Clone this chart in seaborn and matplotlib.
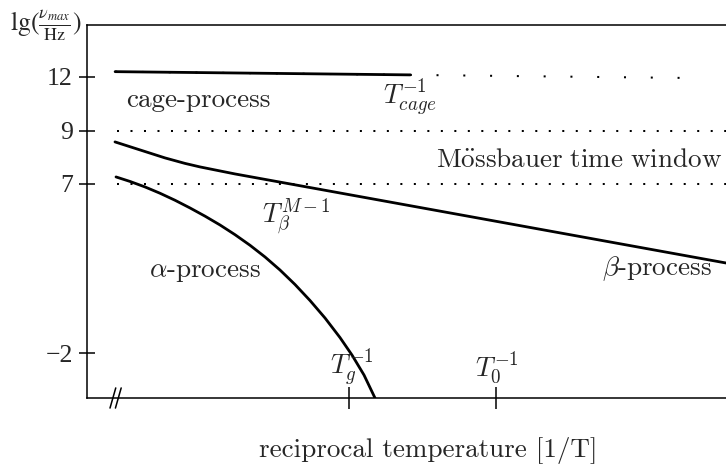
import numpy as np
import matplotlib
matplotlib.use("Agg")
import matplotlib.pyplot as plt
import seaborn as sns

# ---------------- data (schematic: x = reciprocal temperature, arbitrary units 0..10; y = lg(nu_max/Hz)) ----
cage_x = [0.44, 5.06]
cage_y = [12.29, 12.11]
cage_ext_x = [0.44, 9.62]          # dotted continuation of the cage line
cage_ext_y = [12.29, 11.93]

beta_x = [0.438, 0.829, 1.221, 1.534, 1.768, 2.003, 2.316, 10.0]
beta_y = [8.585, 8.283, 7.981, 7.774, 7.642, 7.528, 7.377, 2.793]

alpha_x = [0.454, 0.673, 0.908, 1.142, 1.377, 1.612, 1.847, 2.081, 2.316, 2.551,
           2.786, 3.020, 3.255, 3.490, 3.725, 3.959, 4.147, 4.335, 4.507]
alpha_y = [7.264, 7.094, 6.840, 6.505, 6.132, 5.722, 5.285, 4.817, 4.300, 3.736,
           3.113, 2.421, 1.649, 0.797, -0.135, -1.174, -2.105, -3.170, -4.395]

window_x = [0.47, 10.0]
window_low = 7
window_high = 9

ytick_vals = [12, 9, 7, -2]
ytick_labels = ["12", "9", "7", "\u22122"]
xtick_vals = [4.10, 6.40]      # T_g^-1 and T_0^-1

# schematic (piecewise linear) y axis
knot_lg = [-100.0, -4.4, -2.0, 7.0, 9.0, 12.0, 14.9, 100.0]
knot_pos = [-95.6 * 18.78, 0.0, 45.0, 214.0, 267.0, 321.0, 373.0, 373.0 + 85.1 * 18.0]

def fwd(v):
    return np.interp(v, knot_lg, knot_pos)

def inv(p):
    return np.interp(p, knot_pos, knot_lg)

# ---------------- style ----------------
sns.set_style("white")
plt.rcParams["font.family"] = ["cmr10", "DejaVu Serif"]
plt.rcParams["mathtext.fontset"] = "cm"
plt.rcParams["axes.formatter.use_mathtext"] = True

fig = plt.figure(figsize=(7.26, 4.68), dpi=100)
ax = fig.add_axes([87 / 726, 70 / 468, 639 / 726, 373 / 468])

lw = 2.0
sns.lineplot(x=cage_ext_x, y=cage_ext_y, ax=ax, color="black", lw=1.45,
             linestyle=(0, (1.0, 12.3)), estimator=None, sort=False)
sns.lineplot(x=cage_x, y=cage_y, ax=ax, color="black", lw=lw, estimator=None, sort=False)
for yv in (window_high, window_low):
    sns.lineplot(x=window_x, y=[yv, yv], ax=ax, color="black", lw=1.45,
                 linestyle=(0, (1.0, 5.7)), estimator=None, sort=False)
sns.lineplot(x=beta_x, y=beta_y, ax=ax, color="black", lw=lw, estimator=None, sort=False)
sns.lineplot(x=alpha_x, y=alpha_y, ax=ax, color="black", lw=lw, estimator=None, sort=False)

ax.set_yscale("function", functions=(fwd, inv))
ax.set_xlim(0, 10)
ax.set_ylim(-4.395, 14.89)

ax.set_yticks(ytick_vals, labels=ytick_labels)
ax.set_xticks(xtick_vals, labels=["", ""])
ax.minorticks_off()
for lab in ax.get_yticklabels():
    lab.set_fontfamily("Liberation Serif")
    lab.set_fontsize(18.5)
ax.tick_params(axis="y", which="major", left=True, right=False, direction="inout",
               length=11.5, width=1.1, pad=4.5, color="black")
ax.tick_params(axis="x", which="major", bottom=True, top=False, direction="inout",
               length=16.5, width=1.1, color="black")

for s in ("left", "top", "bottom"):
    ax.spines[s].set_color("black")
    ax.spines[s].set_linewidth(1.1)
ax.spines["right"].set_visible(False)
ax.set_xlabel("")
ax.set_ylabel("")

# axis break mark
for dx in (0.0, 0.0085):
    ax.plot([0.036 + dx, 0.045 + dx], [-0.027, 0.027], transform=ax.transAxes,
            color="black", lw=1.1, clip_on=False)

fs = 19.5
T = ax.transAxes
ax.text(0.061, 0.780, "cage-process", transform=T, fontsize=fs, va="baseline")
ax.text(0.463, 0.786, r"$T_{cage}^{-1}$", transform=T, fontsize=fs, va="baseline")
ax.text(0.994, 0.620, r"$\mathrm{M\ddot{o}ssbauer\ time\ window}$", transform=T,
        fontsize=fs, va="baseline", ha="right")
ax.text(0.274, 0.470, r"$T_{\beta}^{M-1}$", transform=T, fontsize=fs, va="baseline")
ax.text(0.097, 0.324, r"$\alpha$-process", transform=T, fontsize=fs, va="baseline")
ax.text(0.806, 0.330, r"$\beta$-process", transform=T, fontsize=fs, va="baseline")
ax.text(0.380, 0.062, r"$T_{g}^{-1}$", transform=T, fontsize=fs, va="baseline")
ax.text(0.607, 0.060, r"$T_{0}^{-1}$", transform=T, fontsize=fs, va="baseline")
ax.text(0.534, -0.158, "reciprocal temperature [1/T]", transform=T, fontsize=fs,
        va="baseline", ha="center")

fig.text(10 / 726, 1 - 25 / 468, r"$\mathrm{lg}(\frac{\nu_{max}}{\mathrm{Hz}})$",
         fontsize=18.5, va="center", ha="left", math_fontfamily="stix",
         fontfamily="Liberation Serif")

fig.savefig("out.png", dpi=100)
